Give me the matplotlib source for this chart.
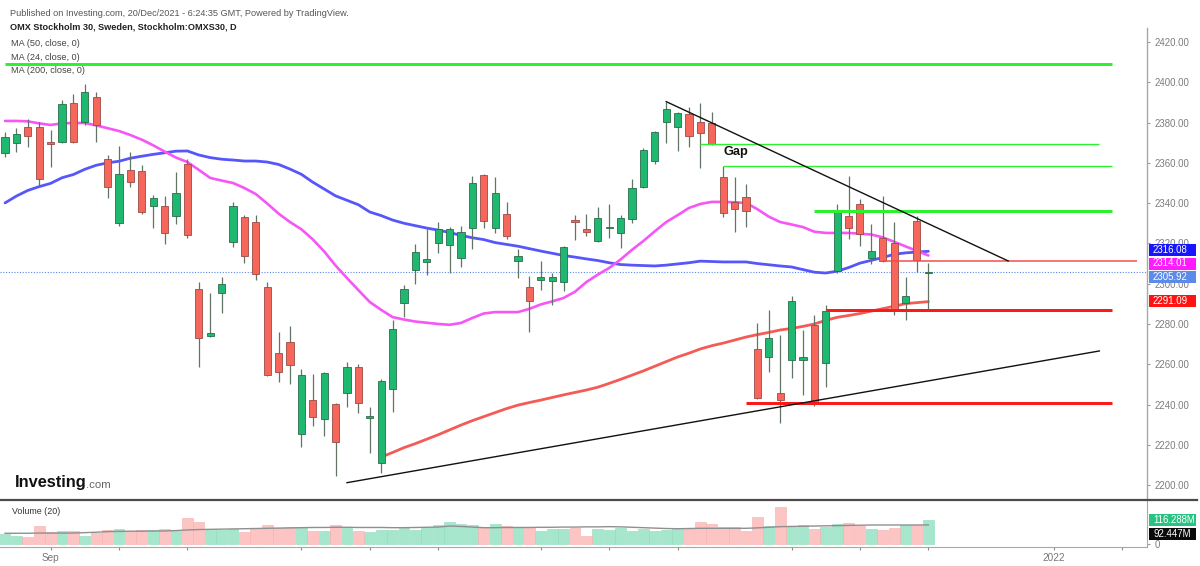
import matplotlib
matplotlib.use('Agg')
import matplotlib.pyplot as plt
from matplotlib.patches import Rectangle
from matplotlib.ticker import FormatStrFormatter
import numpy as np

plt.rcParams['font.family'] = ['Liberation Sans', 'DejaVu Sans']

# ---------------- data ----------------
opens = [2365.0, 2369.9, 2377.8, 2377.8, 2370.3, 2370.3, 2389.7, 2380.3, 2392.7, 2361.9,
         2330.1, 2356.4, 2356.0, 2338.6, 2338.6, 2333.6, 2359.4, 2297.4, 2274.2, 2295.4,
         2320.7, 2333.1, 2330.6, 2298.4, 2265.6, 2271.0, 2225.4, 2242.2, 2232.8, 2240.3,
         2245.7, 2258.6, 2233.3, 2211.0, 2247.7, 2290.4, 2306.8, 2310.8, 2320.2, 2319.2,
         2312.8, 2327.6, 2354.0, 2327.6, 2334.6, 2311.3, 2298.4, 2301.8, 2301.3, 2300.8,
         2331.6, 2327.1, 2321.2, 2327.6, 2325.2, 2332.1, 2348.0, 2360.9, 2380.3, 2377.8,
         2384.2, 2380.3, 2379.8, 2353.0, 2340.6, 2343.0, 2267.6, 2263.6, 2245.7, 2262.1,
         2262.1, 2279.5, 2260.6, 2306.3, 2333.6, 2339.6, 2312.8, 2322.7, 2320.2, 2290.4,
         2331.1, 2305.3]
highs = [2375.3, 2377.3, 2381.8, 2380.3, 2376.3, 2391.2, 2394.2, 2399.1, 2395.2, 2363.9,
         2368.4, 2365.4, 2358.9, 2344.0, 2343.5, 2355.5, 2361.9, 2300.8, 2295.4, 2303.3,
         2340.6, 2334.0, 2334.1, 2300.8, 2276.0, 2279.0, 2257.6, 2255.2, 2256.2, 2241.0,
         2261.1, 2260.1, 2238.8, 2252.7, 2282.0, 2299.3, 2319.7, 2327.1, 2330.6, 2328.0,
         2328.6, 2353.5, 2354.5, 2353.0, 2340.6, 2317.2, 2303.8, 2311.3, 2305.3, 2318.7,
         2334.1, 2334.6, 2338.1, 2339.6, 2334.1, 2352.0, 2367.4, 2375.8, 2390.2, 2385.2,
         2387.7, 2389.7, 2385.2, 2358.4, 2353.0, 2349.5, 2280.5, 2286.9, 2274.5, 2293.9,
         2277.0, 2284.4, 2289.4, 2339.6, 2353.5, 2342.0, 2329.6, 2343.5, 2330.6, 2303.3,
         2333.6, 2310.3]
lows = [2362.9, 2365.4, 2367.9, 2348.5, 2358.0, 2369.8, 2369.8, 2378.8, 2370.3, 2342.5,
        2328.6, 2348.0, 2334.8, 2327.6, 2319.7, 2329.6, 2322.7, 2258.6, 2273.6, 2285.4,
        2318.2, 2310.3, 2301.8, 2254.2, 2251.2, 2250.2, 2218.9, 2229.3, 2224.4, 2204.5,
        2238.8, 2235.8, 2215.9, 2206.0, 2236.3, 2283.5, 2299.8, 2304.3, 2315.2, 2305.3,
        2308.3, 2317.2, 2327.6, 2325.2, 2322.2, 2302.8, 2276.0, 2296.9, 2289.4, 2296.4,
        2321.7, 2323.7, 2320.7, 2322.7, 2317.7, 2330.1, 2347.5, 2359.4, 2369.9, 2365.9,
        2367.9, 2357.4, 2369.0, 2333.1, 2325.7, 2328.1, 2242.7, 2256.1, 2230.8, 2253.2,
        2244.7, 2239.3, 2248.7, 2305.3, 2322.2, 2318.7, 2309.8, 2310.8, 2284.4, 2282.0,
        2305.8, 2287.4]
closes = [2372.8, 2374.3, 2373.3, 2352.0, 2369.6, 2389.2, 2370.3, 2395.2, 2378.8, 2348.0,
          2354.5, 2350.5, 2335.6, 2342.5, 2325.2, 2345.0, 2324.2, 2273.0, 2275.4, 2299.8,
          2338.6, 2313.7, 2304.8, 2254.7, 2256.1, 2259.6, 2254.7, 2233.8, 2255.7, 2221.4,
          2258.6, 2240.8, 2234.3, 2251.7, 2277.5, 2297.4, 2315.7, 2312.3, 2327.1, 2327.1,
          2325.7, 2350.0, 2331.1, 2345.0, 2323.7, 2313.7, 2291.4, 2303.3, 2303.3, 2318.2,
          2330.6, 2325.7, 2332.6, 2328.1, 2332.6, 2347.5, 2366.4, 2375.3, 2386.7, 2384.7,
          2373.3, 2374.8, 2369.4, 2335.1, 2337.1, 2336.1, 2243.2, 2273.0, 2242.2, 2291.4,
          2263.6, 2241.3, 2286.4, 2335.6, 2327.6, 2324.7, 2316.2, 2311.3, 2287.4, 2293.9,
          2311.8, 2305.92]
volumes_m = [47, 37, 34, 89, 57, 63, 63, 40, 55, 66, 74, 63, 66, 66, 74, 63, 127, 108, 66, 66,
             74, 60, 71, 92, 76, 84, 81, 64, 64, 90, 77, 61, 58, 68, 68, 77, 68, 81, 92, 105,
             95, 90, 81, 95, 89, 84, 84, 63, 74, 74, 79, 37, 74, 68, 79, 64, 74, 63, 68, 79,
             73, 108, 95, 81, 81, 63, 131, 89, 178, 84, 90, 74, 82, 95, 103, 89, 74, 66, 77, 90,
             92, 116.288]
vol_ma_m = [52, 52, 52, 53, 53, 53, 53, 55, 57, 60, 61, 62, 62, 63, 63, 65, 68, 70, 71, 72,
            73, 74, 75, 76, 77, 78, 79, 80, 80, 81, 81, 80, 80, 80, 79, 79, 80, 81, 82, 87,
            85, 82, 79, 79, 80, 80, 80, 81, 81, 82, 82, 83, 83, 84, 83, 81, 79, 77, 75, 74,
            75, 76, 76, 76, 76, 76, 78, 81, 84, 85, 86, 87, 88, 89, 90, 91, 92, 92, 92, 92,
            92, 92.447]
ma50 = [2340.1, 2343.5, 2346.3, 2348.2, 2349.8, 2352.6, 2354.2, 2356.8, 2358.8, 2360.0,
        2360.8, 2362.3, 2363.3, 2364.2, 2365.0, 2365.8, 2365.9, 2363.9, 2362.6, 2361.8,
        2361.4, 2360.9, 2360.9, 2360.4, 2359.2, 2356.9, 2354.3, 2350.4, 2347.0, 2343.6,
        2341.4, 2339.2, 2335.6, 2333.8, 2331.6, 2330.0, 2328.8, 2327.6, 2326.6, 2325.4,
        2324.0, 2322.8, 2321.9, 2320.4, 2319.5, 2318.6, 2317.4, 2316.2, 2315.1, 2314.0,
        2313.2, 2312.3, 2311.5, 2310.4, 2309.5, 2309.2, 2309.0, 2308.8, 2309.2, 2309.8,
        2310.4, 2311.2, 2311.0, 2310.8, 2310.8, 2310.8, 2310.0, 2309.4, 2308.8, 2308.3,
        2307.0, 2305.7, 2305.3, 2306.2, 2308.0, 2310.2, 2311.6, 2313.0, 2314.6, 2315.3,
        2315.7, 2316.08]
ma24 = [2380.8, 2380.8, 2380.6, 2379.6, 2378.8, 2379.6, 2379.8, 2379.8, 2378.6, 2377.2,
        2375.8, 2373.8, 2371.5, 2368.7, 2365.6, 2362.6, 2360.4, 2356.5, 2352.5, 2351.2,
        2350.0, 2347.5, 2344.5, 2339.8, 2334.8, 2330.6, 2327.0, 2322.0, 2316.0, 2309.0,
        2302.8, 2296.8, 2290.9, 2287.0, 2283.4, 2282.2, 2281.2, 2280.6, 2280.0, 2279.6,
        2280.5, 2283.0, 2285.2, 2285.9, 2285.9, 2285.9, 2287.5, 2289.7, 2291.2, 2292.9,
        2296.0, 2300.8, 2304.5, 2307.8, 2312.0, 2316.8, 2321.2, 2326.0, 2330.6, 2334.0,
        2337.6, 2339.6, 2340.6, 2340.6, 2340.4, 2340.1, 2337.0, 2333.3, 2330.6, 2329.4,
        2328.1, 2325.8, 2325.2, 2325.2, 2325.2, 2324.8, 2324.4, 2323.0, 2320.8, 2318.5,
        2316.3, 2314.01]
ma200_start = 33
ma200 = [2213.9, 2216.2, 2218.6, 2220.6, 2222.8, 2225.0, 2227.4, 2229.8, 2232.0, 2234.0,
         2236.0, 2238.0, 2239.7, 2241.0, 2242.2, 2243.5, 2244.8, 2246.0, 2247.2, 2248.6,
         2250.5, 2252.5, 2254.6, 2256.7, 2259.0, 2261.3, 2263.6, 2265.5, 2267.6, 2269.2,
         2270.5, 2272.0, 2273.5, 2274.7, 2275.8, 2277.0, 2277.8, 2278.8, 2280.0, 2281.8,
         2283.3, 2284.2, 2285.2, 2286.4, 2287.6, 2288.8, 2290.1, 2290.6, 2291.09]

# drawings: horizontal levels (price, start bar, end bar)
green_levels = [(2409.1, 0, 97.1), (2369.2, 61, 96), (2358.4, 63, 97.1), (2336.2, 71, 97.1)]
red_levels = [(2286.9, 72, 97.1), (2240.9, 65, 97.1), (2311.3, 77, 99.3)]
# trend lines ((bar, price), (bar, price))
trend_down = ((58, 2390.4), (88, 2311.3))
trend_up = ((30, 2201.2), (96, 2266.6))
gap_label = ("Gap", 63.0, 2365.4)

price_ticks = list(range(2200, 2421, 20))
date_tick_bars = [4, 10, 16, 26, 32, 38, 47, 53, 59, 69, 75, 81, 92, 98]
date_tick_labels = ['Sep', '', '', '', '', '', '', '', '', '', '', '', '2022', '']

# ---------------- figure ----------------
W, H = 1200, 566
fig = plt.figure(figsize=(W / 100, H / 100), dpi=100)
fig.patch.set_facecolor('white')

def fx(x):
    return x / W

def fy(y):
    return 1 - y / H

ax = fig.add_axes([0, fy(500), fx(1147), (500 - 28) / H])
axv = fig.add_axes([0, fy(547), fx(1147), (547 - 500) / H], sharex=ax)

n = len(opens)
idx = np.arange(n)
o = np.array(opens); c = np.array(closes); h = np.array(highs); l = np.array(lows)
up = c >= o

# moving averages (behind candles)
ax.plot(idx, ma50, color='#5656fb', lw=2.0, zorder=2, solid_capstyle='round')
ax.plot(idx, ma24, color='#f556f5', lw=1.9, zorder=2, solid_capstyle='round')
ax.plot(idx[ma200_start:], ma200, color='#f45a56', lw=2.0, zorder=2, solid_capstyle='round')

# candles
ax.vlines(idx, l, h, color='#627466', lw=0.9, zorder=3)
bottom = np.minimum(o, c)
height = np.maximum(np.abs(c - o), 0.55)
ax.bar(idx[up], height[up], bottom=bottom[up], width=0.62, color='#1fb870',
       edgecolor='#2d6b4b', linewidth=0.6, zorder=4)
ax.bar(idx[~up], height[~up], bottom=bottom[~up], width=0.62, color='#f7665b',
       edgecolor='#9a4b45', linewidth=0.6, zorder=4)

# last price dotted line
ax.axhline(closes[-1], color='#5b86ee', lw=0.8, ls=(0, (1, 1.5)), zorder=1)

# drawings
g_styles = [3.0, 1.4, 1.4, 3.0]
for (p, a, b), lw in zip(green_levels, g_styles):
    ax.plot([a, b], [p, p], color='#2ef02e', lw=lw * 0.72, zorder=6, solid_capstyle='butt')
r_styles = [3.0, 3.0, 1.5]
for (p, a, b), lw in zip(red_levels, r_styles):
    ax.plot([a, b], [p, p], color='#fa1a1a' if lw > 2 else '#f54a4a', lw=lw * 0.72,
            zorder=6, solid_capstyle='butt')
for (p0, p1) in (trend_down, trend_up):
    ax.plot([p0[0], p1[0]], [p0[1], p1[1]], color='#111111', lw=1.0, zorder=6)
ax.text(gap_label[1], gap_label[2], gap_label[0], fontsize=9.2, fontweight='bold',
        color='#111111', ha='left', va='center', zorder=7)

# axes styling (price)
ax.set_xlim(-0.44, 100.18)
ax.set_ylim(2192.6, 2426.95)
for s in ['left', 'top', 'bottom']:
    ax.spines[s].set_visible(False)
ax.spines['right'].set_color('#a8a8a8')
ax.spines['right'].set_linewidth(1.0)
ax.yaxis.tick_right()
ax.set_yticks(price_ticks)
ax.yaxis.set_major_formatter(FormatStrFormatter('%.2f'))
ax.tick_params(axis='y', colors='#9a9a9a', labelcolor='#7c7c7c', labelsize=6.9,
               length=2.5, width=0.8, pad=3)
ax.tick_params(axis='x', bottom=False, labelbottom=False)
ax.set_facecolor('none')

# volume pane
vol = np.array(volumes_m)
axv.bar(idx[up], vol[up], width=0.94, color='#a6e6cc', edgecolor='#8fdcbd', linewidth=0.4, zorder=2)
axv.bar(idx[~up], vol[~up], width=0.94, color='#fcc4c3', edgecolor='#f6b0ae', linewidth=0.4, zorder=2)
axv.plot(idx, vol_ma_m, color='#8f8f8f', lw=1.0, zorder=3)
axv.set_ylim(-14.5, 213)
for s in ['left', 'top']:
    axv.spines[s].set_visible(False)
axv.spines['right'].set_color('#a8a8a8')
axv.spines['bottom'].set_color('#a8a8a8')
axv.yaxis.tick_right()
axv.set_yticks([0])
axv.set_yticklabels(['0'])
axv.tick_params(axis='y', colors='#9a9a9a', labelcolor='#7c7c7c', labelsize=6.9,
                length=2.5, width=0.8, pad=3)
axv.set_xticks(date_tick_bars)
axv.set_xticklabels(date_tick_labels)
axv.tick_params(axis='x', colors='#8a8a8a', labelcolor='#777777', labelsize=7.2,
                length=2.5, width=0.8, pad=2)
axv.set_facecolor('none')

# separator between panes
fig.add_artist(plt.Line2D([0, fx(1197)], [fy(500), fy(500)], color='#4a4a4a', lw=1.6))

# header texts
fig.text(fx(10), fy(13), 'Published on Investing.com, 20/Dec/2021 - 6:24:35 GMT, Powered by TradingView.',
         fontsize=6.55, color='#555555', va='center', ha='left')
fig.text(fx(10), fy(27), 'OMX Stockholm 30, Sweden, Stockholm:OMXS30, D',
         fontsize=6.6, color='#222222', fontweight='bold', va='center', ha='left')
for yy, t in [(44, 'MA (50, close, 0)'), (57.5, 'MA (24, close, 0)'), (70.5, 'MA (200, close, 0)')]:
    fig.text(fx(11), fy(yy), t, fontsize=6.6, color='#444444', va='center', ha='left')
fig.text(fx(12), fy(512), 'Volume (20)', fontsize=6.4, color='#333333', va='center', ha='left')

# logo
fig.text(fx(15), fy(483), 'Investing', fontsize=11.8, fontweight='bold', color='#111111',
         va='center', ha='left')
fig.text(fx(86), fy(485), '.com', fontsize=8.2, color='#666666', va='center', ha='left')

# right value labels
labels = [('2316.08', 250, '#1515ff', 'white'),
          ('2314.01', 263.5, '#ff1aff', 'white'),
          ('2305.92', 277, '#5b8ae9', 'white'),
          ('2291.09', 300.7, '#ff1212', 'white'),
          ('116.288M', 520, '#27c383', 'white'),
          ('92.447M', 534, '#0a0a0a', 'white')]
for t, yy, bg, fgc in labels:
    fig.add_artist(Rectangle((fx(1149), fy(yy + 6)), fx(47), 12 / H, transform=fig.transFigure,
                             facecolor=bg, edgecolor='none', zorder=10))
    fig.text(fx(1153), fy(yy), t, fontsize=6.9, color=fgc, va='center', ha='left', zorder=11)

fig.savefig('out.png', dpi=100, facecolor='white')
